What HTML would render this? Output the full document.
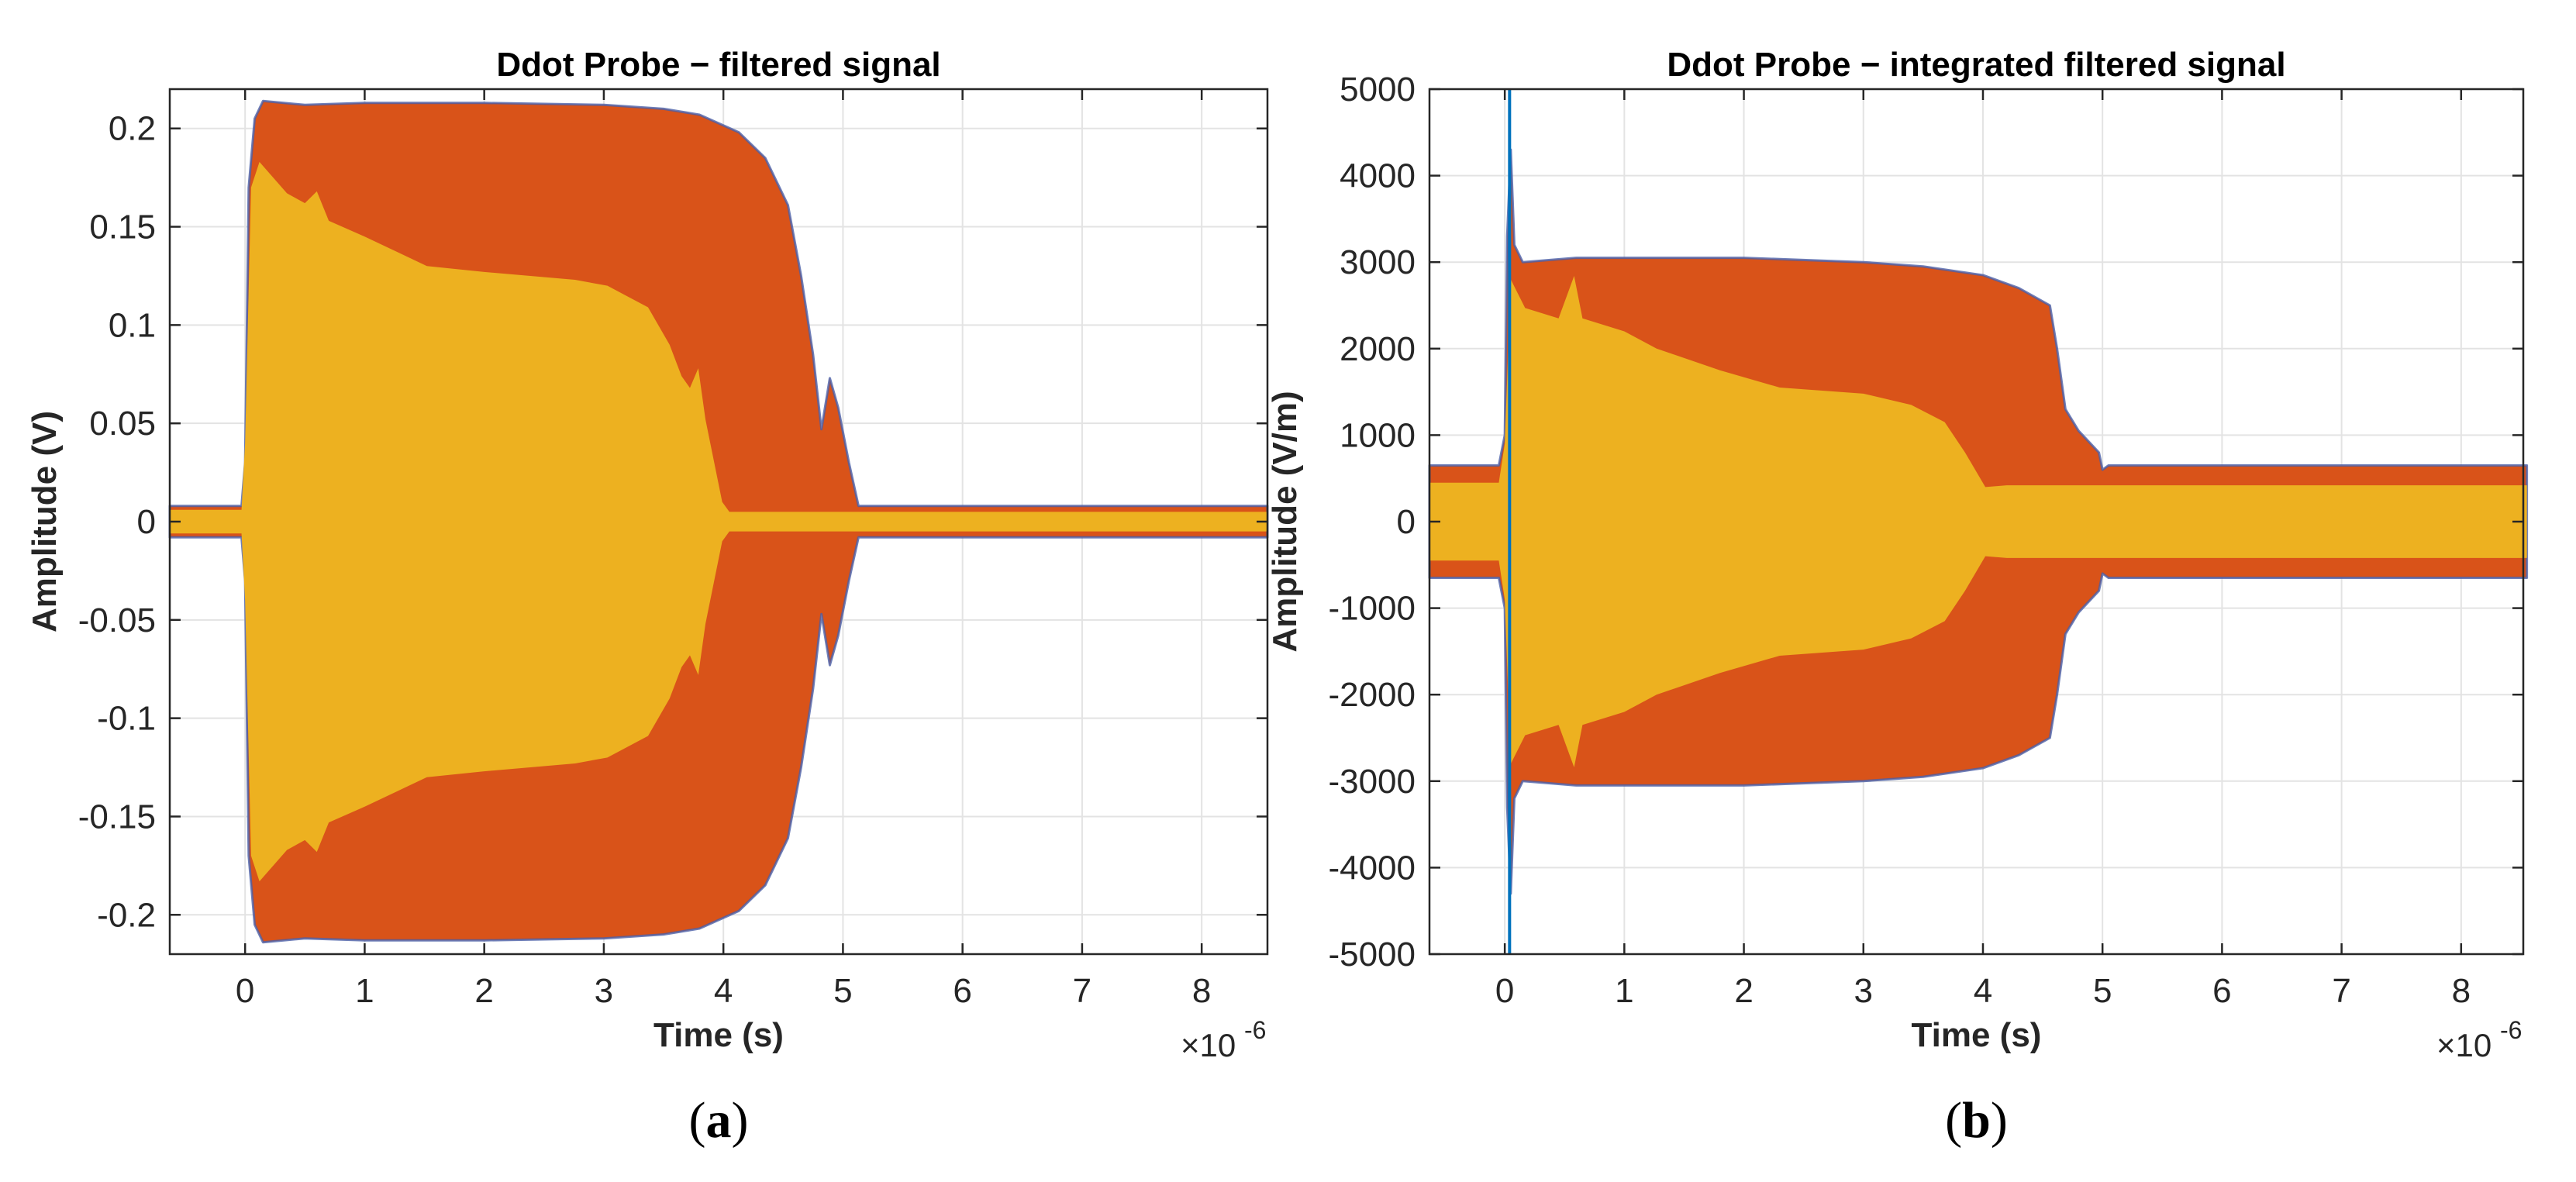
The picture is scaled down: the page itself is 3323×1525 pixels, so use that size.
<!DOCTYPE html>
<html><head><meta charset="utf-8"><style>
html,body{margin:0;padding:0;background:#fff;}
svg{display:block;}
text{font-family:"Liberation Sans",Arial,sans-serif;}
</style></head><body>
<svg id="fig" width="3323" height="1525" viewBox="0 0 3323 1525" xmlns="http://www.w3.org/2000/svg"></svg>
<script>
// ---------- shared data ----------
const xTicks = [0,1,2,3,4,5,6,7,8];
// Panel a (V)
const aYTicks = [0.2,0.15,0.1,0.05,0,-0.05,-0.1,-0.15,-0.2];
const aYTickLabels = ["0.2","0.15","0.1","0.05","0","-0.05","-0.1","-0.15","-0.2"];
const aOrangeT = [-0.63,-0.03,0,0.03,0.08,0.15,0.5,1,2,3,3.5,3.8,4.13,4.35,4.54,4.65,4.75,4.82,4.89,4.96,5.05,5.13,8.55];
const aOrangeV = [0.008,0.008,0.03,0.17,0.205,0.214,0.212,0.213,0.213,0.212,0.21,0.207,0.198,0.185,0.161,0.125,0.085,0.047,0.073,0.058,0.03,0.008,0.008];
const aYellowT = [-0.63,-0.03,0,0.05,0.12,0.35,0.5,0.6,0.7,1.0,1.52,2.0,2.76,3.03,3.37,3.55,3.65,3.72,3.79,3.85,3.99,4.05,8.55];
const aYellowV = [0.006,0.006,0.04,0.17,0.183,0.167,0.162,0.168,0.153,0.145,0.13,0.127,0.123,0.12,0.109,0.09,0.074,0.068,0.078,0.052,0.01,0.005,0.005];
// Panel b (V/m)
const bYTicks = [5000,4000,3000,2000,1000,0,-1000,-2000,-3000,-4000,-5000];
const bYTickLabels = ["5000","4000","3000","2000","1000","0","-1000","-2000","-3000","-4000","-5000"];
const bOrangeT = [-0.63,-0.05,0,0.02,0.05,0.08,0.15,0.6,1,2,3,3.5,4.0,4.3,4.56,4.62,4.69,4.8,4.97,5.0,5.05,8.55];
const bOrangeV = [650,650,1000,3300,4300,3200,3000,3050,3050,3050,3000,2950,2850,2700,2500,2000,1300,1050,800,600,650,650];
const bYellowT = [-0.63,-0.05,0,0.05,0.17,0.45,0.58,0.65,1.0,1.27,1.8,2.3,3.0,3.4,3.68,3.85,4.02,4.2,8.55];
const bYellowV = [450,450,900,2800,2470,2350,2840,2350,2200,2000,1750,1550,1480,1350,1150,800,400,420,420];
const bSpikeT = [0.04];
const bSpikeHi = [5000];
const bSpikeLo = [-5000];

const NS="http://www.w3.org/2000/svg";
const svg=document.getElementById('fig');
function mk(tag,attrs,parent){const e=document.createElementNS(NS,tag);for(const k in attrs)e.setAttribute(k,attrs[k]);(parent||svg).appendChild(e);return e;}

function panel(p){
  const g=mk('g',{});
  
  
  const X=t=>p.L+(t-p.xmin)/(p.xmax-p.xmin)*(p.R-p.L);
  const Y=v=>p.T+(p.ymax-v)/(p.ymax-p.ymin)*(p.B-p.T);
  xTicks.forEach(t=>{const l=mk('line',{x1:X(t),x2:X(t),y1:p.T,y2:p.B,stroke:'#e3e3e3','stroke-width':2},g);
    
    });
  p.yTicks.forEach(v=>{const l=mk('line',{x1:p.L,x2:p.R,y1:Y(v),y2:Y(v),stroke:'#e3e3e3','stroke-width':2},g);
    
    });
  function env(T,V,fill,edge,name){
    let pts=T.map((t,i)=>X(t)+','+Y(V[i]));
    for(let i=T.length-1;i>=0;i--)pts.push(X(T[i])+','+Y(-V[i]));
    const e=mk('polygon',{points:pts.join(' '),fill:fill,stroke:edge,'stroke-width':edge==='none'?0:3,'stroke-opacity':0.8,'stroke-linejoin':'round'},g);
    
    
  }
  env(p.oT,p.oV,'#D95319','#4a5fa8','series-outer-envelope');
  env(p.yT,p.yV,'#EDB120','none','series-inner-envelope');
  if(p.spT){p.spT.forEach((t,i)=>{const s=mk('line',{x1:X(t),x2:X(t),y1:Y(p.spH[i]),y2:Y(p.spL[i]),stroke:'#0072BD','stroke-width':4},g);
    
    });}
  const bx=mk('rect',{x:p.L,y:p.T,width:p.R-p.L,height:p.B-p.T,fill:'none',stroke:'#262626','stroke-width':2.5},g);
  
  
  xTicks.forEach(t=>{
    mk('line',{x1:X(t),x2:X(t),y1:p.B,y2:p.B-14,stroke:'#262626','stroke-width':2.5},g);
    mk('line',{x1:X(t),x2:X(t),y1:p.T,y2:p.T+14,stroke:'#262626','stroke-width':2.5},g);
    const tx=mk('text',{x:X(t),y:1293,'text-anchor':'middle','font-size':44,fill:'#262626'},g);
    tx.textContent=t;
    
    
  });
  p.yTicks.forEach((v,i)=>{
    mk('line',{x1:p.L,x2:p.L+14,y1:Y(v),y2:Y(v),stroke:'#262626','stroke-width':2.5},g);
    mk('line',{x1:p.R,x2:p.R-14,y1:Y(v),y2:Y(v),stroke:'#262626','stroke-width':2.5},g);
    const tx=mk('text',{x:p.L-18,y:Y(v)+15,'text-anchor':'end','font-size':44,fill:'#262626'},g);
    tx.textContent=p.yLabels[i];
    
    
  });
  const cx=(p.L+p.R)/2;
  const ti=mk('text',{x:cx,y:98,'text-anchor':'middle','font-size':44,'font-weight':'bold',fill:'#000'},g);
  ti.textContent=p.title;
  
  
  const xl=mk('text',{x:cx,y:1350,'text-anchor':'middle','font-size':44,'font-weight':'bold',fill:'#262626'},g);
  xl.textContent='Time (s)';
  
  
  const ex=mk('text',{x:p.R-112,y:1363,'font-size':42,fill:'#262626'},g);
  ex.textContent='×10';
  
  
  const sup=mk('text',{x:p.R-30,y:1340,'font-size':32,fill:'#262626'},g);
  sup.textContent='-6';
  
  
  const yl=mk('text',{x:0,y:0,'text-anchor':'middle','font-size':44,'font-weight':'bold',fill:'#262626',transform:`translate(${p.ylx},${(p.T+p.B)/2}) rotate(-90)`},g);
  yl.textContent=p.ylabel;
  
  
  const cap=mk('text',{x:cx,y:1467,'text-anchor':'middle','font-size':66,fill:'#000'},g);
  cap.setAttribute('style','font-family:"Liberation Serif",serif');
  cap.innerHTML='(<tspan font-weight="bold">'+p.cap+'</tspan>)';
  
  
}
panel({name:'panel-a-filtered-signal',L:219,R:1635,T:115,B:1231,xmin:-0.63,xmax:8.55,ymin:-0.22,ymax:0.22,
  yTicks:aYTicks,yLabels:aYTickLabels,oT:aOrangeT,oV:aOrangeV,yT:aYellowT,yV:aYellowV,
  title:'Ddot Probe − filtered signal',ylabel:'Amplitude (V)',ylx:72,cap:'a'});
panel({name:'panel-b-integrated-signal',L:1844,R:3255,T:115,B:1231,xmin:-0.63,xmax:8.52,ymin:-5000,ymax:5000,
  yTicks:bYTicks,yLabels:bYTickLabels,oT:bOrangeT,oV:bOrangeV,yT:bYellowT,yV:bYellowV,
  spT:bSpikeT,spH:bSpikeHi,spL:bSpikeLo,
  title:'Ddot Probe − integrated filtered signal',ylabel:'Amplitude (V/m)',ylx:1672,cap:'b'});
</script>
</body></html>
